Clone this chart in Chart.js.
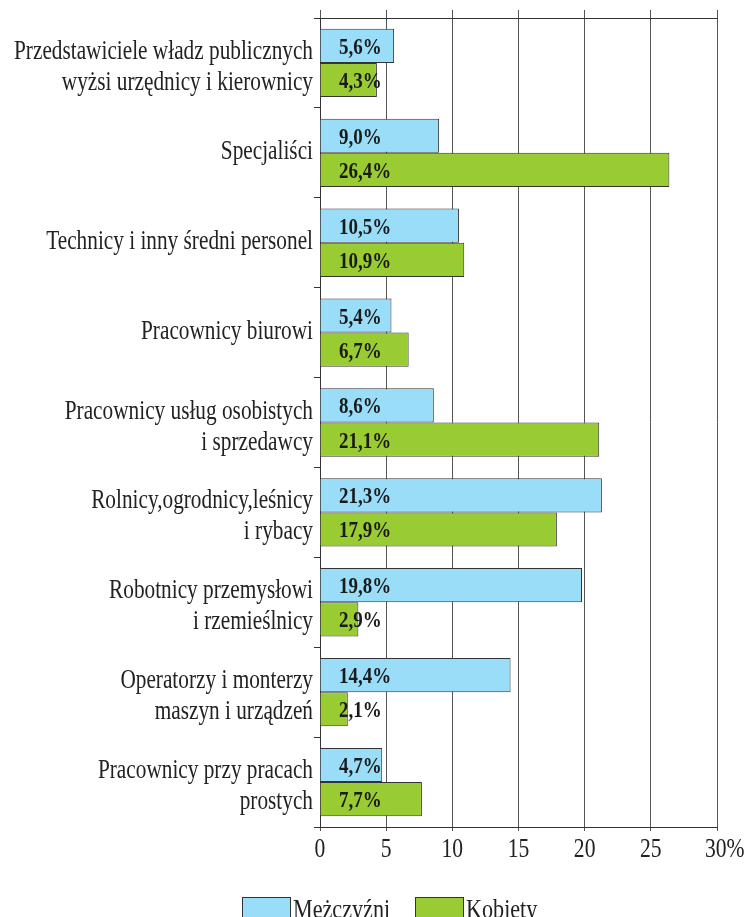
<!DOCTYPE html>
<html>
<head>
<meta charset="utf-8">
<script src="https://cdn.jsdelivr.net/npm/chart.js@4.4.0/dist/chart.umd.min.js"></script>
<style>
  html, body { margin: 0; padding: 0; background: #fff; overflow: hidden; }
</style>
</head>
<body>
<canvas id="myChart" width="750" height="917"></canvas>
<script>
// categories (multi-line labels)
const categories = [
    ["Przedstawiciele władz publicznych", "wyżsi urzędnicy i kierownicy"],
    "Specjaliści",
    "Technicy i inny średni personel",
    "Pracownicy biurowi",
    ["Pracownicy usług osobistych", "i sprzedawcy"],
    ["Rolnicy,ogrodnicy,leśnicy", "i rybacy"],
    ["Robotnicy przemysłowi", "i rzemieślnicy"],
    ["Operatorzy i monterzy", "maszyn i urządzeń"],
    ["Pracownicy przy pracach", "prostych"]
];
const men = [5.6, 9.0, 10.5, 5.4, 8.6, 21.3, 19.8, 14.4, 4.7];
const women = [4.3, 26.4, 10.9, 6.7, 21.1, 17.9, 2.9, 2.1, 7.7];
const xTicks = [0, 5, 10, 15, 20, 25, 30];

const FONT = "'Liberation Serif', 'Times New Roman', serif";
const TEXT = '#222';

const formatValue = v => v.toFixed(1).replace('.', ',') + '%';

// the original uses a narrow serif, so squeeze the text horizontally
function condensedText(ctx, text, x, y, align, sx) {
    ctx.save();
    ctx.translate(x, y);
    ctx.scale(sx, 1);
    ctx.textAlign = align;
    ctx.textBaseline = 'alphabetic';
    ctx.fillText(text, 0, 0);
    ctx.restore();
}

// category and value-axis labels
const axisLabels = {
    id: 'axisLabels',
    afterDraw(chart) {
        const ctx = chart.ctx;
        const y = chart.scales.y;
        const x = chart.scales.x;
        ctx.save();
        ctx.fillStyle = TEXT;
        ctx.font = "28px " + FONT;
        chart.data.labels.forEach((lab, i) => {
            const c = y.getPixelForTick(i);
            if (Array.isArray(lab)) {
                condensedText(ctx, lab[0], 313, c - 4, 'right', 0.76);
                condensedText(ctx, lab[1], 313, c + 27, 'right', 0.76);
            } else {
                condensedText(ctx, lab, 313, c + 6, 'right', 0.76);
            }
        });
        ctx.font = "27px " + FONT;
        xTicks.forEach(v => {
            const t = v === 30 ? '30%' : String(v);
            const px = x.getPixelForValue(v);
            condensedText(ctx, t, v === 30 ? px - 12 : px, 857, v === 30 ? 'left' : 'center', 0.8);
        });
        ctx.restore();
    }
};

// value labels drawn inside the bars
const valueLabels = {
    id: 'valueLabels',
    afterDatasetsDraw(chart) {
        const ctx = chart.ctx;
        const zero = chart.scales.x.getPixelForValue(0);
        ctx.save();
        ctx.font = "bold 24px " + FONT;
        ctx.fillStyle = '#1a1a1a';
        chart.data.datasets.forEach((ds, i) => {
            chart.getDatasetMeta(i).data.forEach((bar, j) => {
                condensedText(ctx, formatValue(ds.data[j]), zero + 19, bar.y + 8, 'left', 0.79);
            });
        });
        ctx.restore();
    }
};

// legend at the bottom, tight box/text spacing
const bottomLegend = {
    id: 'bottomLegend',
    afterDraw(chart) {
        const ctx = chart.ctx;
        const starts = [242, 415];
        ctx.save();
        ctx.font = "27px " + FONT;
        chart.data.datasets.forEach((ds, i) => {
            const x = starts[i];
            ctx.fillStyle = ds.backgroundColor;
            ctx.fillRect(x, 897, 48, 24);
            ctx.strokeStyle = '#333';
            ctx.lineWidth = 1;
            ctx.strokeRect(x + 0.5, 897.5, 48, 24);
            ctx.fillStyle = TEXT;
            condensedText(ctx, ds.label, x + 51, 918, 'left', 0.82);
        });
        ctx.restore();
    }
};

new Chart(document.getElementById('myChart').getContext('2d'), {
    type: 'bar',
    data: {
        labels: categories,
        datasets: [
            {
                label: 'Mężczyźni',
                data: men,
                backgroundColor: 'rgb(153, 221, 249)',
                borderColor: '#333',
                borderWidth: 1,
                categoryPercentage: 0.76,
                barPercentage: 1.0
            },
            {
                label: 'Kobiety',
                data: women,
                backgroundColor: 'rgb(153, 204, 51)',
                borderColor: '#333',
                borderWidth: 1,
                categoryPercentage: 0.76,
                barPercentage: 1.0
            }
        ]
    },
    options: {
        indexAxis: 'y',
        responsive: false,
        animation: false,
        devicePixelRatio: 1,
        layout: { padding: { left: 0, right: 33, top: 10, bottom: 0 } },
        plugins: {
            legend: { display: false },
            tooltip: { enabled: false }
        },
        scales: {
            x: {
                position: 'bottom',
                min: 0,
                max: 30,
                afterBuildTicks: scale => { scale.ticks = xTicks.map(v => ({ value: v })); },
                afterFit: scale => {
                    scale.height = 90;
                    scale.paddingLeft = 0;
                    scale.paddingRight = 0;
                },
                grid: { color: '#555', lineWidth: 1, tickLength: 4 },
                border: { color: '#333', width: 1 },
                ticks: { display: false }
            },
            x2: {
                position: 'top',
                min: 0,
                max: 30,
                afterBuildTicks: scale => { scale.ticks = xTicks.map(v => ({ value: v })); },
                afterFit: scale => { scale.height = 8; },
                grid: { drawOnChartArea: false, color: '#555', tickLength: 8 },
                border: { color: '#333', width: 1 },
                ticks: { display: false }
            },
            y: {
                afterFit: scale => {
                    scale.width = 320;
                    scale.paddingTop = 0;
                    scale.paddingBottom = 0;
                },
                grid: { offset: true, drawOnChartArea: false, color: '#333', tickLength: 6 },
                border: { color: '#333', width: 1 },
                ticks: { display: false }
            }
        }
    },
    plugins: [valueLabels, axisLabels, bottomLegend]
});
</script>
</body>
</html>
